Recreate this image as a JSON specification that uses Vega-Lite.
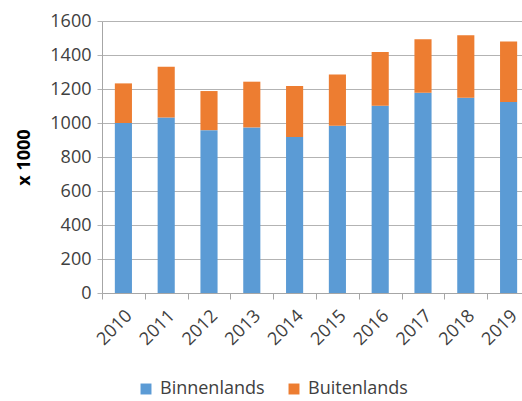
{
  "$schema": "https://vega.github.io/schema/vega-lite/v6.json",
  "width": 428,
  "height": 272,
  "autosize": {"type": "none"},
  "padding": {"left": 102, "top": 21, "right": -8, "bottom": 108},
  "config": {"font": "Open Sans", "view": {"stroke": null}, "axis": {"labelColor": "#404040", "titleColor": "#000000"}},
  "data": {"values": [
    {"year": "2010", "type": "Binnenlands", "value": 1000},
    {"year": "2010", "type": "Buitenlands", "value": 233},
    {"year": "2011", "type": "Binnenlands", "value": 1032},
    {"year": "2011", "type": "Buitenlands", "value": 299},
    {"year": "2012", "type": "Binnenlands", "value": 958},
    {"year": "2012", "type": "Buitenlands", "value": 230},
    {"year": "2013", "type": "Binnenlands", "value": 974},
    {"year": "2013", "type": "Buitenlands", "value": 269},
    {"year": "2014", "type": "Binnenlands", "value": 917},
    {"year": "2014", "type": "Buitenlands", "value": 300},
    {"year": "2015", "type": "Binnenlands", "value": 984},
    {"year": "2015", "type": "Buitenlands", "value": 302},
    {"year": "2016", "type": "Binnenlands", "value": 1102},
    {"year": "2016", "type": "Buitenlands", "value": 316},
    {"year": "2017", "type": "Binnenlands", "value": 1178},
    {"year": "2017", "type": "Buitenlands", "value": 314},
    {"year": "2018", "type": "Binnenlands", "value": 1149},
    {"year": "2018", "type": "Buitenlands", "value": 367},
    {"year": "2019", "type": "Binnenlands", "value": 1123},
    {"year": "2019", "type": "Buitenlands", "value": 357}
  ]},
  "mark": {"type": "bar"},
  "encoding": {
    "x": {
      "field": "year", "type": "ordinal",
      "scale": {"paddingInner": 0.6, "paddingOuter": 0.3},
      "axis": {
        "title": null, "labelAngle": -45, "labelAlign": "right", "labelBaseline": "middle",
        "labelFontSize": 18, "labelPadding": 14, "tickSize": 6, "tickColor": "#a6a6a6",
        "domainColor": "#a6a6a6", "tickOffset": -21.4, "labelOffset": 27
      }
    },
    "y": {
      "field": "value", "type": "quantitative", "stack": "zero",
      "scale": {"domain": [0, 1600], "nice": false},
      "axis": {
        "values": [0, 200, 400, 600, 800, 1000, 1200, 1400, 1600], "format": "d",
        "title": "x 1000", "titleFontSize": 18, "titleFontWeight": "bold", "titlePadding": 16,
        "labelFontSize": 18, "labelPadding": 6, "tickSize": 5, "tickColor": "#b3b3b3",
        "gridColor": "#b3b3b3", "domainColor": "#a6a6a6"
      }
    },
    "order": {"field": "type", "sort": "ascending"},
    "color": {
      "field": "type", "type": "nominal",
      "scale": {"domain": ["Binnenlands", "Buitenlands"], "range": ["#5B9BD5", "#ED7D31"]},
      "legend": {
        "title": null, "orient": "none", "direction": "horizontal", "legendX": 35, "legendY": 359,
        "symbolType": "square", "symbolSize": 120, "symbolStrokeWidth": 0,
        "labelFontSize": 18, "labelColor": "#404040", "labelOffset": 5, "columnPadding": 20
      }
    }
  }
}
